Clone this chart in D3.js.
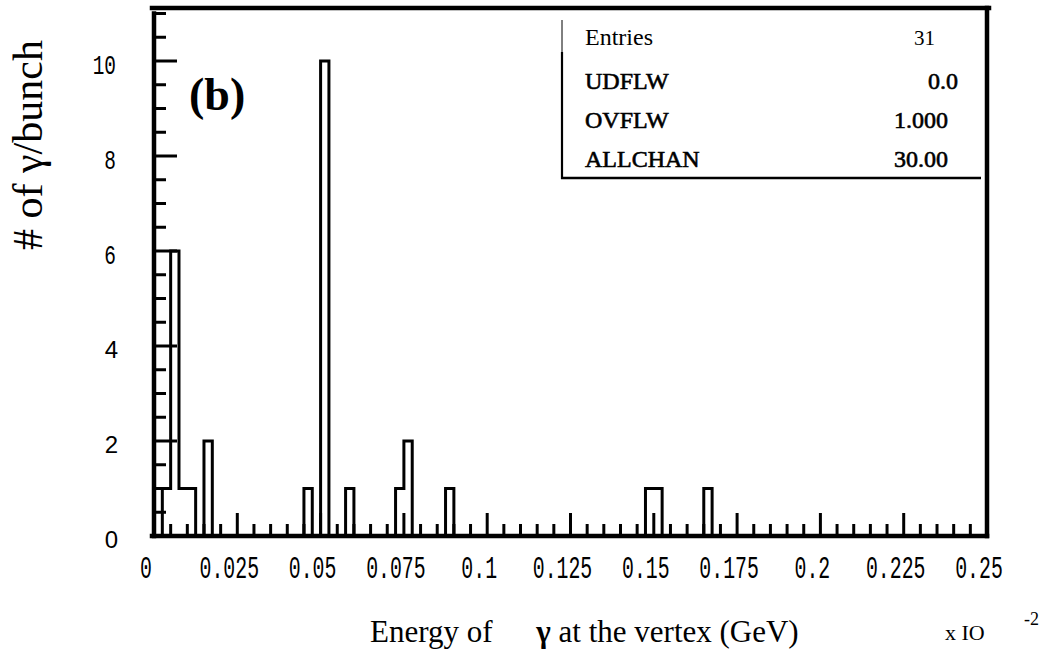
<!DOCTYPE html>
<html>
<head>
<meta charset="utf-8">
<script src="https://cdn.jsdelivr.net/npm/d3@7"></script>
<style>
  html, body { margin: 0; padding: 0; background: #fff; }
  svg { display: block; }
</style>
</head>
<body>
<script>
// Histogram of photon energy at the vertex (units of 10^-2 GeV), 100 bins over [0, 0.25]
const binWidth = 0.0025;
const binLowEdges = [0.0025, 0.005, 0.0075, 0.01, 0.015, 0.045, 0.05, 0.0575, 0.0725, 0.075, 0.0875, 0.1475, 0.15, 0.165];
const binCounts   = [1,      6,     1,      1,    2,     1,     10,   1,      1,      2,     1,      1,      1,    1];

const xTickValues = [0, 0.025, 0.05, 0.075, 0.1, 0.125, 0.15, 0.175, 0.2, 0.225, 0.25];
const xTickLabels = ["0", "0.025", "0.05", "0.075", "0.1", "0.125", "0.15", "0.175", "0.2", "0.225", "0.25"];
const yTickValues = [0, 2, 4, 6, 8, 10];
const yTickLabels = ["0", "2", "4", "6", "8", "10"];

const statNames  = ["Entries", "UDFLW", "OVFLW", "ALLCHAN"];
const statValues = ["31", "0.0", "1.000", "30.00"];

const W = 1045, H = 651;
const svg = d3.select("body").append("svg").attr("width", W).attr("height", H);

const x = d3.scaleLinear().domain([0, 0.25]).range([154, 987]);
const y = d3.scaleLinear().domain([0, 11]).range([536, 13.5]);

// full bin array
const nBins = Math.round((x.domain()[1] - x.domain()[0]) / binWidth);
const counts = new Array(nBins).fill(0);
binLowEdges.forEach((e, i) => { counts[Math.round(e / binWidth)] = binCounts[i]; });

// histogram outline
const pts = [[0, 0]];
counts.forEach((c, i) => pts.push([i * binWidth, c]));
pts.push([x.domain()[1], 0]);
const line = d3.line().x(d => x(d[0])).y(d => y(d[1])).curve(d3.curveStepAfter);
svg.append("path").attr("d", line(pts))
  .attr("fill", "none").attr("stroke", "#000").attr("stroke-width", 3);

// ticks (drawn inward)
const g = svg.append("g").attr("stroke", "#000").attr("stroke-width", 3);
x.ticks(50).forEach(v => {
  const major = Math.abs(v / 0.025 - Math.round(v / 0.025)) < 1e-6;
  g.append("line").attr("x1", x(v)).attr("x2", x(v))
    .attr("y1", y(0)).attr("y2", y(0) - (major ? 23 : 12));
});
y.ticks(22).forEach(v => {
  const major = Math.abs(v / 2 - Math.round(v / 2)) < 1e-6;
  g.append("line").attr("y1", y(v)).attr("y2", y(v))
    .attr("x1", x(0)).attr("x2", x(0) + (major ? 23 : 12));
});

// frame
const f = svg.append("g").attr("stroke", "#000").attr("stroke-width", 4.5).attr("stroke-linecap", "square");
f.append("line").attr("x1", 152).attr("x2", 989).attr("y1", 8).attr("y2", 8);
f.append("line").attr("x1", x.range()[1]).attr("x2", x.range()[1]).attr("y1", 8).attr("y2", y(0));
f.append("line").attr("x1", x(0)).attr("x2", x(0)).attr("y1", y(11)).attr("y2", y(0));
f.append("line").attr("x1", x(0) - 2).attr("x2", x.range()[1]).attr("y1", y(0)).attr("y2", y(0));

// x tick labels (narrow monospaced)
xTickValues.forEach((v, i) => {
  svg.append("text")
    .attr("transform", `translate(${x(v) - 8},${578}) scale(0.62,1)`)
    .attr("text-anchor", "middle")
    .attr("font-family", "Liberation Mono")
    .attr("font-size", 32)
    .attr("fill", "#000")
    .text(xTickLabels[i]);
});

// y tick labels
yTickValues.forEach((v, i) => {
  const t = svg.append("text").attr("text-anchor", "end").attr("fill", "#000");
  if (v >= 6) {
    t.attr("transform", `translate(116,${y(v) + 13}) scale(0.72,1)`)
     .attr("font-family", "Liberation Mono").attr("font-size", 27);
  } else {
    t.attr("transform", `translate(118,${y(v) + 12})`)
     .attr("font-family", "Liberation Sans").attr("font-size", 24);
  }
  t.text(yTickLabels[i]);
});

// panel tag
svg.append("text").attr("x", 189).attr("y", 110)
  .attr("font-family", "Liberation Serif").attr("font-weight", "bold")
  .attr("font-size", 46).text("(b)");

// axis titles
svg.append("text")
  .attr("transform", "translate(42,145) rotate(-90)")
  .attr("text-anchor", "middle")
  .attr("font-family", "Liberation Serif").attr("font-size", 42)
  .text("# of γ/bunch");

const xt = svg.append("text").attr("x", 370).attr("y", 642)
  .attr("font-family", "Liberation Serif").attr("font-size", 31);
xt.append("tspan").text("Energy of ");
xt.append("tspan").attr("dx", 36).attr("font-weight", "bold").text("γ");
xt.append("tspan").text(" at the vertex (GeV)");

svg.append("text").attr("x", 945).attr("y", 640)
  .attr("font-family", "Liberation Serif").attr("font-size", 22).text("x IO");
svg.append("text").attr("x", 1024).attr("y", 625)
  .attr("font-family", "Liberation Serif").attr("font-size", 18).text("-2");

// statistics box
const sb = svg.append("g");
sb.append("line").attr("x1", 562).attr("x2", 562).attr("y1", 20).attr("y2", 52)
  .attr("stroke", "#000").attr("stroke-width", 1);
sb.append("line").attr("x1", 562).attr("x2", 562).attr("y1", 52).attr("y2", 179)
  .attr("stroke", "#000").attr("stroke-width", 2.2);
sb.append("line").attr("x1", 561).attr("x2", 981).attr("y1", 178).attr("y2", 178)
  .attr("stroke", "#000").attr("stroke-width", 2.4);

const rowBase = [45, 89, 128, 167];
const valueEnd = [935, 958, 948, 948];
statNames.forEach((n, i) => {
  const heavy = i > 0;
  sb.append("text").attr("x", 585).attr("y", rowBase[i])
    .attr("font-family", "Liberation Serif").attr("font-size", 24)
    .attr("stroke", heavy ? "#000" : "none").attr("stroke-width", heavy ? 0.6 : 0)
    .text(n);
  sb.append("text").attr("x", valueEnd[i]).attr("y", rowBase[i])
    .attr("text-anchor", "end")
    .attr("font-family", "Liberation Serif").attr("font-size", i === 0 ? 21 : 24)
    .attr("stroke", heavy ? "#000" : "none").attr("stroke-width", heavy ? 0.6 : 0)
    .text(statValues[i]);
});
</script>
</body>
</html>
